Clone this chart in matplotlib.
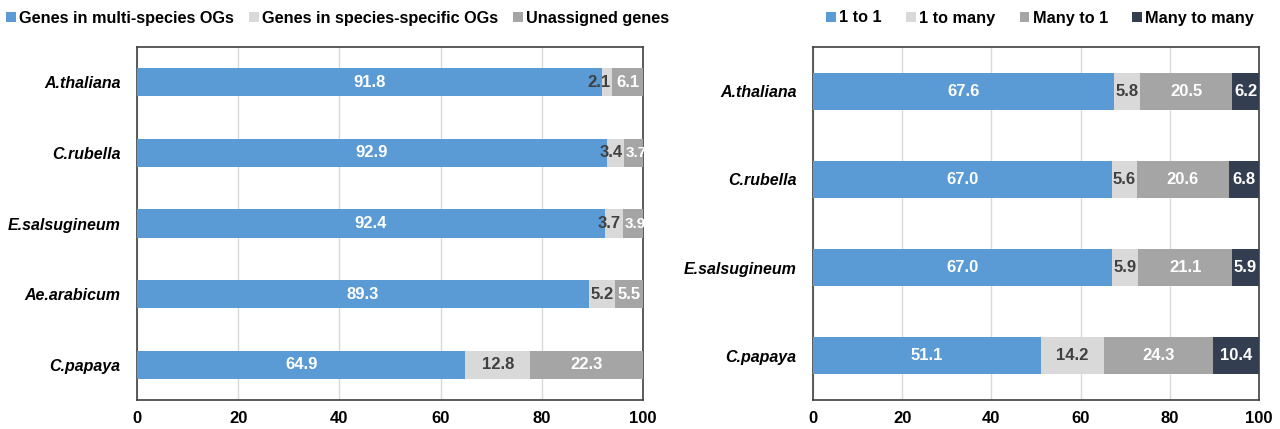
import matplotlib.pyplot as plt
import numpy as np

plt.rcParams['font.family'] = ['Liberation Sans', 'DejaVu Sans']
plt.rcParams['font.weight'] = 'bold'

# left panel data
species_left = ['A.thaliana', 'C.rubella', 'E.salsugineum', 'Ae.arabicum', 'C.papaya']
multi_og = [91.8, 92.9, 92.4, 89.3, 64.9]
specific_og = [2.1, 3.4, 3.7, 5.2, 12.8]
unassigned = [6.1, 3.7, 3.9, 5.5, 22.3]
left_names = ['Genes in multi-species OGs', 'Genes in species-specific OGs', 'Unassigned genes']

# right panel data
species_right = ['A.thaliana', 'C.rubella', 'E.salsugineum', 'C.papaya']
one_one = [67.6, 67.0, 67.0, 51.1]
one_many = [5.8, 5.6, 5.9, 14.2]
many_one = [20.5, 20.6, 21.1, 24.3]
many_many = [6.2, 6.8, 5.9, 10.4]
right_names = ['1 to 1', '1 to many', 'Many to 1', 'Many to many']

colors = ['#5B9BD5', '#D9D9D9', '#A5A5A5', '#333F50']
txt_colors = ['white', '#404040', 'white', 'white']


def stacked(ax, species, series, names, height):
    y = np.arange(len(species))
    left = np.zeros(len(species))
    last = len(series) - 1
    for i, (vals, name) in enumerate(zip(series, names)):
        vals = np.array(vals)
        ax.barh(y, vals, left=left, height=height, color=colors[i],
                label=name, zorder=3)
        for yy, l, v in zip(y, left, vals):
            # narrow segments: labels spill over the edges like the original
            size = 12
            if v < 4 and i != last:
                x, ha = l + v - 0.4, 'right'
            elif v < 4:
                x, ha, size = l + 0.3, 'left', 11
            else:
                x, ha = l + v / 2, 'center'
            ax.text(x, yy, f'{v:.1f}', ha=ha, va='center', color=txt_colors[i],
                    fontsize=size, fontweight='bold', zorder=4, clip_on=False)
        left += vals
    ax.set_xlim(0, 100)
    ax.set_ylim(len(species) - 0.5, -0.5)
    ax.set_yticks(y)
    ax.set_yticklabels(species, fontstyle='italic', fontweight='bold', fontsize=11.5)
    ax.set_xticks([0, 20, 40, 60, 80, 100])
    ax.tick_params(axis='x', labelsize=12, length=0, pad=8)
    ax.tick_params(axis='y', length=0, pad=12)
    ax.grid(axis='x', color='#D9D9D9', lw=1, zorder=0)
    for s in ax.spines.values():
        s.set_color('#404040')
        s.set_linewidth(1.2)


fig = plt.figure(figsize=(12.8, 4.29), dpi=100)
ax1 = fig.add_axes([137 / 1280, 1 - 400 / 429, 506 / 1280, 353 / 429])
ax2 = fig.add_axes([813 / 1280, 1 - 400 / 429, 446 / 1280, 353 / 429])

stacked(ax1, species_left, [multi_og, specific_og, unassigned], left_names, 0.4)
stacked(ax2, species_right, [one_one, one_many, many_one, many_many], right_names, 0.42)

leg_kw = dict(frameon=False, handlelength=0.6, handleheight=0.6, handletextpad=0.2,
              borderaxespad=0, prop={'weight': 'bold', 'size': 11.7})
ax1.legend(loc='center left', bbox_to_anchor=(0 / 1280, 1 - 18 / 429), ncol=3,
           bbox_transform=fig.transFigure, columnspacing=0.9, **leg_kw)
ax2.legend(loc='center', bbox_to_anchor=(1040 / 1280, 1 - 18 / 429), ncol=4,
           bbox_transform=fig.transFigure, columnspacing=1.5, **leg_kw)

fig.savefig('out.png', dpi=100)
